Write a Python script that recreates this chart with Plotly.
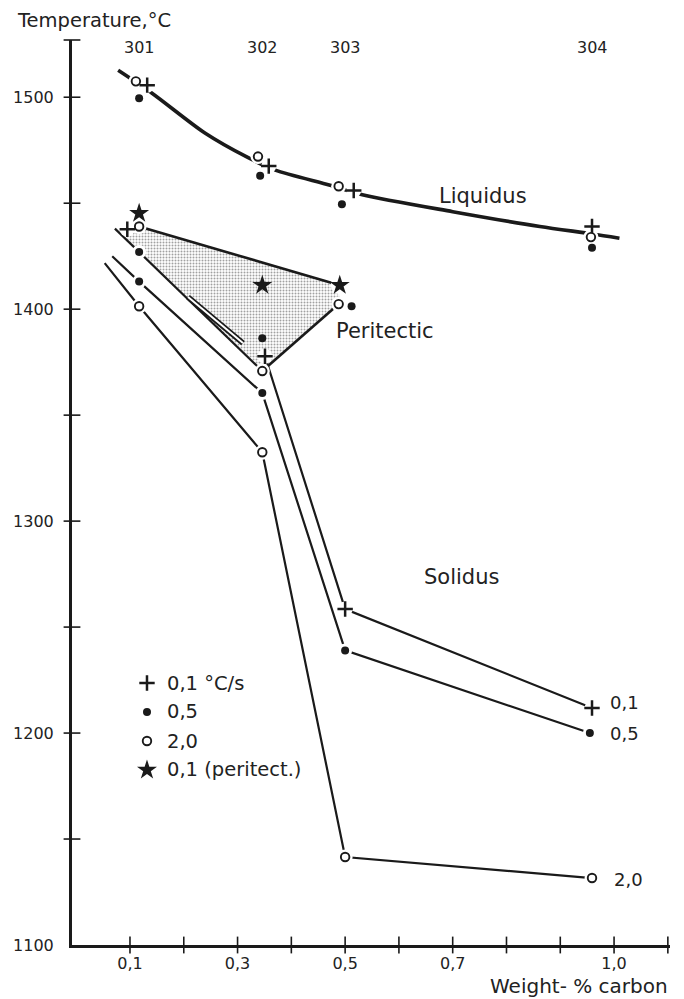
import plotly.graph_objects as go

# Steel grades and their carbon contents (wt-%)
steels = ["301", "302", "303", "304"]
steel_carbon = [0.117, 0.346, 0.50, 0.959]

# Liquidus temperatures (°C) for three cooling rates
liq_plus_x = [0.132, 0.358, 0.516, 0.959]
liq_plus_T = [1505.7, 1467.5, 1456.0, 1439.0]
liq_dot_x = [0.117, 0.342, 0.494, 0.959]
liq_dot_T = [1499.5, 1463.0, 1449.5, 1429.0]
liq_open_x = [0.111, 0.338, 0.488, 0.957]
liq_open_T = [1507.5, 1472.0, 1458.0, 1434.0]

# Liquidus curve
liq_line_x = [0.078, 0.141, 0.24, 0.318, 0.37, 0.472, 0.532, 0.70, 0.862, 0.96, 1.01]
liq_line_T = [1512.7, 1501.9, 1483.0, 1471.7, 1465.6, 1458.5, 1454.0, 1446.0, 1439.0, 1435.5, 1433.5]

# Peritectic temperatures (markers sitting on boundary lines)
per_star_x = [0.117, 0.49]
per_star_T = [1445.3, 1411.3]
per_plus_x = [0.095, 0.351]
per_plus_T = [1437.7, 1377.8]
per_open_x = [0.117, 0.346, 0.488]
per_open_T = [1439.0, 1370.8, 1402.4]
per_dot_x = [0.117, 0.512]
per_dot_T = [1427.0, 1401.4]
# Peritectic temperatures inside the shaded region
in_star_x = [0.346]
in_star_T = [1411.3]
in_dot_x = [0.346]
in_dot_T = [1386.3]

# Solidus temperatures
sol01_x = [0.351, 0.50, 0.959]
sol01_T = [1377.8, 1258.5, 1211.8]
sol05_x = [0.067, 0.117, 0.346, 0.50, 0.955]
sol05_T = [1425.0, 1413.0, 1360.4, 1239.0, 1200.0]
sol20_x = [0.053, 0.117, 0.346, 0.50, 0.959]
sol20_T = [1421.7, 1401.4, 1332.5, 1141.5, 1131.6]

# Peritectic region boundaries
per_low_x = [0.072, 0.117, 0.346]
per_low_T = [1438.0, 1427.0, 1370.8]
per_top_x = [0.117, 0.49]
per_top_T = [1439.0, 1411.3]
per_right_x = [0.488, 0.346]
per_right_T = [1402.4, 1370.8]
per_area_x = [0.095, 0.49, 0.49, 0.346, 0.117, 0.095]
per_area_T = [1441.0, 1411.3, 1402.4, 1370.8, 1427.0, 1432.0]
arrow_x = [0.208, 0.310]
arrow_T = [1405.7, 1384.0]

# Axis ticks
x_ticks = [0.1, 0.3, 0.5, 0.7, 1.0]
x_ticktext = ["0,1", "0,3", "0,5", "0,7", "1,0"]
x_minor = [0.1, 0.2, 0.3, 0.4, 0.5, 0.6, 0.7, 0.8, 0.9, 1.0, 1.1]
y_ticks = [1100, 1200, 1300, 1400, 1500]
y_minor = [1150, 1200, 1250, 1300, 1350, 1400, 1450, 1500, 1527]

# Legend
legend_labels = ["0,1 \u00b0C/s", "0,5", "2,0", "0,1 (peritect.)"]

X_RANGE = [-0.0078, 1.104]
Y_RANGE = [1100, 1527]

INK = "#1a1a1a"
TXT = "#222"
FONT = "DejaVu Sans, Verdana, sans-serif"

fig = go.Figure()

# shaded peritectic region
fig.add_trace(go.Scatter(
    x=per_area_x, y=per_area_T, mode="lines", fill="toself",
    line=dict(width=0), fillcolor="rgba(0,0,0,0)",
    fillpattern=dict(shape=".", fgcolor="#444", bgcolor="white", size=3, solidity=0.35),
    hoverinfo="skip", showlegend=False))


def line(xs, ys, w, color=INK, **kw):
    fig.add_trace(go.Scatter(x=xs, y=ys, mode="lines", line=dict(color=color, width=w, **kw),
                             hoverinfo="skip", showlegend=False))


line(liq_line_x, liq_line_T, 3.6, shape="spline", smoothing=0.8)
line(sol01_x, sol01_T, 2.2)
line(sol05_x, sol05_T, 2.2)
line(sol20_x, sol20_T, 2.2)
line(per_low_x, per_low_T, 2.2)
line(per_top_x, per_top_T, 2.6)
line(per_right_x, per_right_T, 2.6)
# hollow double-line arrow inside the peritectic region
line(arrow_x, arrow_T, 5.5)
line(arrow_x, arrow_T, 2, color="white")

plus_x = liq_plus_x + per_plus_x + sol01_x[1:]
plus_T = liq_plus_T + per_plus_T + sol01_T[1:]
dot_x = liq_dot_x + per_dot_x + sol05_x[1:]
dot_T = liq_dot_T + per_dot_T + sol05_T[1:]
open_x = liq_open_x + per_open_x + sol20_x[1:]
open_T = liq_open_T + per_open_T + sol20_T[1:]

# white halos so the lines break around the markers
for xs, ys, s in [(plus_x, plus_T, 15), (dot_x, dot_T, 14), (open_x, open_T, 15), (per_star_x, per_star_T, 18)]:
    fig.add_trace(go.Scatter(x=xs, y=ys, mode="markers",
                             marker=dict(symbol="circle", size=s, color="white", line=dict(width=0)),
                             hoverinfo="skip", showlegend=False, cliponaxis=False))

plus_m = dict(symbol="cross-thin", size=11, color=INK, line=dict(width=2.5, color=INK))
dot_m = dict(symbol="circle", size=8, color=INK, line=dict(width=0))
open_m = dict(symbol="circle", size=8.5, color="white", line=dict(width=1.9, color=INK))
star_m = dict(symbol="star", size=15, color=INK, line=dict(width=0))

for xs, ys, m in [(plus_x, plus_T, plus_m), (dot_x + in_dot_x, dot_T + in_dot_T, dot_m),
                  (open_x, open_T, open_m), (per_star_x + in_star_x, per_star_T + in_star_T, star_m)]:
    fig.add_trace(go.Scatter(x=xs, y=ys, mode="markers", marker=m, hoverinfo="skip", showlegend=False))

# crossing tick marks on both axes
fig.add_trace(go.Scatter(x=[X_RANGE[0]] * len(y_minor), y=y_minor, mode="markers",
                         marker=dict(symbol="line-ew", size=12, line=dict(width=1.6, color=INK)),
                         cliponaxis=False, hoverinfo="skip", showlegend=False))
fig.add_trace(go.Scatter(x=x_minor, y=[Y_RANGE[0]] * len(x_minor), mode="markers",
                         marker=dict(symbol="line-ns", size=12, line=dict(width=1.6, color=INK)),
                         cliponaxis=False, hoverinfo="skip", showlegend=False))

# key, drawn on an overlay axis spanning the plot area (0..1)
key_sym_x = 0.1254
key_txt_x = 0.1555
key_rows = [0.2895, 0.2575, 0.2254, 0.1934]
for m, yk in zip([plus_m, dot_m, open_m, star_m], key_rows):
    fig.add_trace(go.Scatter(x=[key_sym_x], y=[yk], xaxis="x2", yaxis="y2", mode="markers",
                             marker=m, hoverinfo="skip", showlegend=False))

annos = [
    dict(x=0, y=1, xref="paper", yref="paper", xshift=-57, yshift=20, text="Temperature,\u00b0C",
         xanchor="left", yanchor="middle", size=19.5),
    dict(x=1, y=0, xref="paper", yref="paper", yshift=-41, text="Weight- % carbon",
         xanchor="right", yanchor="middle", size=20),
    dict(x=0.756, y=1453.3, text="Liquidus", size=21),
    dict(x=0.574, y=1389.6, text="Peritectic", size=21),
    dict(x=0.717, y=1273.6, text="Solidus", size=21),
    dict(x=0.989, y=1214.2, text="0,1", xanchor="left", size=18),
    dict(x=0.989, y=1200.0, text="0,5", xanchor="left", size=18),
    dict(x=0.996, y=1130.7, text="2,0", xanchor="left", size=18),
]
for s, c in zip(steels, steel_carbon):
    annos.append(dict(x=c, y=1, xref="x", yref="paper", yshift=-7, yanchor="middle", text=s, size=16))
for lab, yk in zip(legend_labels, key_rows):
    annos.append(dict(x=key_txt_x, y=yk, xref="x2", yref="y2", text=lab, xanchor="left",
                      yanchor="middle", size=19.5))

annotations = []
for a in annos:
    size = a.pop("size")
    a.setdefault("showarrow", False)
    a.setdefault("xref", "x")
    a.setdefault("yref", "y")
    a["font"] = dict(family=FONT, color=TXT, size=size)
    annotations.append(a)

fig.update_layout(
    width=684, height=999,
    margin=dict(l=72, r=14, t=40, b=54),
    paper_bgcolor="white", plot_bgcolor="white",
    font=dict(family=FONT, size=16, color=TXT),
    annotations=annotations,
    showlegend=False,
    xaxis=dict(range=X_RANGE, showline=True, linewidth=2.6, linecolor=INK, showgrid=False,
               zeroline=False, tickvals=x_ticks, ticktext=x_ticktext, ticks="",
               ticklabelstandoff=2, tickfont=dict(size=16)),
    yaxis=dict(range=Y_RANGE, showline=True, linewidth=3, linecolor=INK, showgrid=False,
               zeroline=False, tickvals=y_ticks, ticktext=[str(v) for v in y_ticks], ticks="",
               ticklabelstandoff=12, tickfont=dict(size=16)),
    xaxis2=dict(overlaying="x", range=[0, 1], visible=False),
    yaxis2=dict(overlaying="y", range=[0, 1], visible=False),
)

fig.write_html("out.html")
